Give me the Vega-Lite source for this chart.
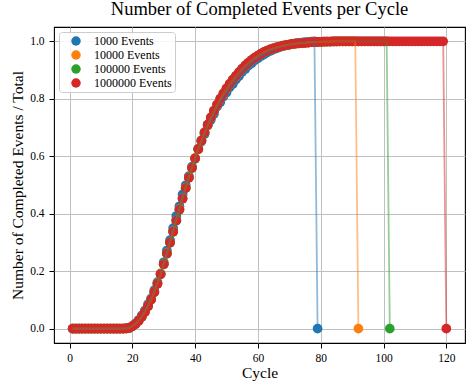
{
"$schema": "https://vega.github.io/schema/vega-lite/v6.json",
"width": 411, "height": 316,
"autosize": {"type": "none"},
"padding": {"left": 54, "top": 27, "right": 1, "bottom": 38},
"background": "white",
"title": {"text": "Number of Completed Events per Cycle", "font": "Liberation Serif", "fontSize": 18.5, "fontWeight": "normal", "anchor": "middle", "frame": "group", "offset": 5, "baseline": "bottom", "dy": 15, "color": "#000000"},
"config": {
"view": {"stroke": "#000000", "strokeWidth": 1.1},
"axis": {"domain": false, "grid": true, "gridColor": "#c0c0c0", "gridWidth": 1, "gridOpacity": 1, "tickColor": "#000000", "tickSize": 5, "tickWidth": 1, "labelFont": "Liberation Serif", "labelFontSize": 11.5, "labelColor": "#000000", "titleFont": "Liberation Serif", "titleFontSize": 15.5, "titleFontWeight": "normal", "titleColor": "#000000"},
"legend": {"orient": "top-left", "offset": 5, "padding": 3, "rowPadding": 2, "symbolOffset": 8, "labelOffset": 12, "labelFont": "Liberation Serif", "labelFontSize": 12, "labelColor": "#000000", "strokeColor": "#cccccc", "fillColor": "rgba(255,255,255,0.85)", "cornerRadius": 3, "symbolType": "circle", "symbolSize": 90, "symbolStrokeWidth": 0, "symbolOpacity": 1}
},
"data": {"values": [
{"n":1000,"c":1,"v":0},{"n":1000,"c":2,"v":0},{"n":1000,"c":3,"v":0},{"n":1000,"c":4,"v":0},{"n":1000,"c":5,"v":0},{"n":1000,"c":6,"v":0},{"n":1000,"c":7,"v":0},{"n":1000,"c":8,"v":0},{"n":1000,"c":9,"v":0},{"n":1000,"c":10,"v":0},{"n":1000,"c":11,"v":0},{"n":1000,"c":12,"v":0},{"n":1000,"c":13,"v":0},{"n":1000,"c":14,"v":0},{"n":1000,"c":15,"v":0},{"n":1000,"c":16,"v":0},{"n":1000,"c":17,"v":0},{"n":1000,"c":18,"v":0.001},{"n":1000,"c":19,"v":0.002},{"n":1000,"c":20,"v":0.009},
{"n":1000,"c":21,"v":0.018},{"n":1000,"c":22,"v":0.03},{"n":1000,"c":23,"v":0.046},{"n":1000,"c":24,"v":0.063},{"n":1000,"c":25,"v":0.085},{"n":1000,"c":26,"v":0.105},{"n":1000,"c":27,"v":0.134},{"n":1000,"c":28,"v":0.162},{"n":1000,"c":29,"v":0.192},{"n":1000,"c":30,"v":0.231},
{"n":1000,"c":31,"v":0.272},{"n":1000,"c":32,"v":0.308},{"n":1000,"c":33,"v":0.35},{"n":1000,"c":34,"v":0.392},{"n":1000,"c":35,"v":0.426},{"n":1000,"c":36,"v":0.467},{"n":1000,"c":37,"v":0.499},{"n":1000,"c":38,"v":0.531},{"n":1000,"c":39,"v":0.564},{"n":1000,"c":40,"v":0.591},
{"n":1000,"c":41,"v":0.626},{"n":1000,"c":42,"v":0.651},{"n":1000,"c":43,"v":0.677},{"n":1000,"c":44,"v":0.707},{"n":1000,"c":45,"v":0.727},{"n":1000,"c":46,"v":0.748},{"n":1000,"c":47,"v":0.773},{"n":1000,"c":48,"v":0.788},{"n":1000,"c":49,"v":0.808},{"n":1000,"c":50,"v":0.822},
{"n":1000,"c":51,"v":0.84},{"n":1000,"c":52,"v":0.851},{"n":1000,"c":53,"v":0.867},{"n":1000,"c":54,"v":0.879},{"n":1000,"c":55,"v":0.894},{"n":1000,"c":56,"v":0.904},{"n":1000,"c":57,"v":0.916},{"n":1000,"c":58,"v":0.924},{"n":1000,"c":59,"v":0.934},{"n":1000,"c":60,"v":0.941},
{"n":1000,"c":61,"v":0.949},{"n":1000,"c":62,"v":0.955},{"n":1000,"c":63,"v":0.962},{"n":1000,"c":64,"v":0.967},{"n":1000,"c":65,"v":0.972},{"n":1000,"c":66,"v":0.976},{"n":1000,"c":67,"v":0.98},{"n":1000,"c":68,"v":0.983},{"n":1000,"c":69,"v":0.986},{"n":1000,"c":70,"v":0.989},
{"n":1000,"c":71,"v":0.991},{"n":1000,"c":72,"v":0.993},{"n":1000,"c":73,"v":0.995},{"n":1000,"c":74,"v":0.996},{"n":1000,"c":75,"v":0.997},{"n":1000,"c":76,"v":0.998},{"n":1000,"c":77,"v":0.999},{"n":1000,"c":78,"v":1},{"n":1000,"c":79,"v":0},
{"n":10000,"c":1,"v":0},{"n":10000,"c":2,"v":0},{"n":10000,"c":3,"v":0},{"n":10000,"c":4,"v":0},{"n":10000,"c":5,"v":0},{"n":10000,"c":6,"v":0},{"n":10000,"c":7,"v":0},{"n":10000,"c":8,"v":0},{"n":10000,"c":9,"v":0},{"n":10000,"c":10,"v":0},{"n":10000,"c":11,"v":0},{"n":10000,"c":12,"v":0},{"n":10000,"c":13,"v":0},{"n":10000,"c":14,"v":0},{"n":10000,"c":15,"v":0},{"n":10000,"c":16,"v":0},{"n":10000,"c":17,"v":0},{"n":10000,"c":18,"v":0.0006},{"n":10000,"c":19,"v":0.0021},{"n":10000,"c":20,"v":0.0083},
{"n":10000,"c":21,"v":0.0162},{"n":10000,"c":22,"v":0.0268},{"n":10000,"c":23,"v":0.0414},{"n":10000,"c":24,"v":0.0583},{"n":10000,"c":25,"v":0.0789},{"n":10000,"c":26,"v":0.1015},{"n":10000,"c":27,"v":0.1281},{"n":10000,"c":28,"v":0.1573},{"n":10000,"c":29,"v":0.1902},{"n":10000,"c":30,"v":0.2252},
{"n":10000,"c":31,"v":0.2627},{"n":10000,"c":32,"v":0.3004},{"n":10000,"c":33,"v":0.3392},{"n":10000,"c":34,"v":0.3771},{"n":10000,"c":35,"v":0.4163},{"n":10000,"c":36,"v":0.4535},{"n":10000,"c":37,"v":0.4909},{"n":10000,"c":38,"v":0.5262},{"n":10000,"c":39,"v":0.5601},{"n":10000,"c":40,"v":0.5935},
{"n":10000,"c":41,"v":0.6244},{"n":10000,"c":42,"v":0.6539},{"n":10000,"c":43,"v":0.6825},{"n":10000,"c":44,"v":0.7087},{"n":10000,"c":45,"v":0.7338},{"n":10000,"c":46,"v":0.7569},{"n":10000,"c":47,"v":0.7785},{"n":10000,"c":48,"v":0.7984},{"n":10000,"c":49,"v":0.8172},{"n":10000,"c":50,"v":0.8345},
{"n":10000,"c":51,"v":0.8503},{"n":10000,"c":52,"v":0.8651},{"n":10000,"c":53,"v":0.8787},{"n":10000,"c":54,"v":0.8918},{"n":10000,"c":55,"v":0.9041},{"n":10000,"c":56,"v":0.9152},{"n":10000,"c":57,"v":0.9251},{"n":10000,"c":58,"v":0.9342},{"n":10000,"c":59,"v":0.9423},{"n":10000,"c":60,"v":0.9494},
{"n":10000,"c":61,"v":0.9563},{"n":10000,"c":62,"v":0.9624},{"n":10000,"c":63,"v":0.9676},{"n":10000,"c":64,"v":0.9718},{"n":10000,"c":65,"v":0.9757},{"n":10000,"c":66,"v":0.9788},{"n":10000,"c":67,"v":0.9818},{"n":10000,"c":68,"v":0.9847},{"n":10000,"c":69,"v":0.9869},{"n":10000,"c":70,"v":0.9889},
{"n":10000,"c":71,"v":0.9908},{"n":10000,"c":72,"v":0.9919},{"n":10000,"c":73,"v":0.9929},{"n":10000,"c":74,"v":0.994},{"n":10000,"c":75,"v":0.9951},{"n":10000,"c":76,"v":0.9961},{"n":10000,"c":77,"v":0.997},{"n":10000,"c":78,"v":0.9976},{"n":10000,"c":79,"v":0.9981},{"n":10000,"c":80,"v":0.9986},
{"n":10000,"c":81,"v":0.999},{"n":10000,"c":82,"v":0.9993},{"n":10000,"c":83,"v":0.9995},{"n":10000,"c":84,"v":0.9996},{"n":10000,"c":85,"v":0.9997},{"n":10000,"c":86,"v":0.9998},{"n":10000,"c":87,"v":0.9999},{"n":10000,"c":88,"v":0.9999},{"n":10000,"c":89,"v":0.9999},{"n":10000,"c":90,"v":1},{"n":10000,"c":91,"v":1},{"n":10000,"c":92,"v":0},
{"n":100000,"c":1,"v":0},{"n":100000,"c":2,"v":0},{"n":100000,"c":3,"v":0},{"n":100000,"c":4,"v":0},{"n":100000,"c":5,"v":0},{"n":100000,"c":6,"v":0},{"n":100000,"c":7,"v":0},{"n":100000,"c":8,"v":0},{"n":100000,"c":9,"v":0},{"n":100000,"c":10,"v":0},{"n":100000,"c":11,"v":0},{"n":100000,"c":12,"v":0},{"n":100000,"c":13,"v":0},{"n":100000,"c":14,"v":0},{"n":100000,"c":15,"v":0},{"n":100000,"c":16,"v":0},{"n":100000,"c":17,"v":0},{"n":100000,"c":18,"v":0.0005},{"n":100000,"c":19,"v":0.0024},{"n":100000,"c":20,"v":0.0081},
{"n":100000,"c":21,"v":0.0161},{"n":100000,"c":22,"v":0.0271},{"n":100000,"c":23,"v":0.0409},{"n":100000,"c":24,"v":0.0582},{"n":100000,"c":25,"v":0.0779},{"n":100000,"c":26,"v":0.1012},{"n":100000,"c":27,"v":0.1268},{"n":100000,"c":28,"v":0.1561},{"n":100000,"c":29,"v":0.1887},{"n":100000,"c":30,"v":0.2243},
{"n":100000,"c":31,"v":0.2608},{"n":100000,"c":32,"v":0.2994},{"n":100000,"c":33,"v":0.3371},{"n":100000,"c":34,"v":0.3762},{"n":100000,"c":35,"v":0.4139},{"n":100000,"c":36,"v":0.4526},{"n":100000,"c":37,"v":0.489},{"n":100000,"c":38,"v":0.5255},{"n":100000,"c":39,"v":0.5594},{"n":100000,"c":40,"v":0.5931},
{"n":100000,"c":41,"v":0.6245},{"n":100000,"c":42,"v":0.6551},{"n":100000,"c":43,"v":0.6829},{"n":100000,"c":44,"v":0.7101},{"n":100000,"c":45,"v":0.7348},{"n":100000,"c":46,"v":0.7586},{"n":100000,"c":47,"v":0.7799},{"n":100000,"c":48,"v":0.8005},{"n":100000,"c":49,"v":0.8187},{"n":100000,"c":50,"v":0.8362},
{"n":100000,"c":51,"v":0.8518},{"n":100000,"c":52,"v":0.8665},{"n":100000,"c":53,"v":0.8799},{"n":100000,"c":54,"v":0.8931},{"n":100000,"c":55,"v":0.9049},{"n":100000,"c":56,"v":0.9161},{"n":100000,"c":57,"v":0.9259},{"n":100000,"c":58,"v":0.9351},{"n":100000,"c":59,"v":0.9429},{"n":100000,"c":60,"v":0.9501},
{"n":100000,"c":61,"v":0.9569},{"n":100000,"c":62,"v":0.9629},{"n":100000,"c":63,"v":0.9681},{"n":100000,"c":64,"v":0.9721},{"n":100000,"c":65,"v":0.9759},{"n":100000,"c":66,"v":0.9791},{"n":100000,"c":67,"v":0.9821},{"n":100000,"c":68,"v":0.9849},{"n":100000,"c":69,"v":0.9871},{"n":100000,"c":70,"v":0.989},
{"n":100000,"c":71,"v":0.9909},{"n":100000,"c":72,"v":0.992},{"n":100000,"c":73,"v":0.993},{"n":100000,"c":74,"v":0.994},{"n":100000,"c":75,"v":0.995},{"n":100000,"c":76,"v":0.996},{"n":100000,"c":77,"v":0.997},{"n":100000,"c":78,"v":0.9975},{"n":100000,"c":79,"v":0.998},{"n":100000,"c":80,"v":0.9985},
{"n":100000,"c":81,"v":0.9989},{"n":100000,"c":82,"v":0.9992},{"n":100000,"c":83,"v":0.9994},{"n":100000,"c":84,"v":0.9996},{"n":100000,"c":85,"v":0.9997},{"n":100000,"c":86,"v":0.9998},{"n":100000,"c":87,"v":0.9999},{"n":100000,"c":88,"v":0.9999},{"n":100000,"c":89,"v":1},{"n":100000,"c":90,"v":1},
{"n":100000,"c":91,"v":1},{"n":100000,"c":92,"v":1},{"n":100000,"c":93,"v":1},{"n":100000,"c":94,"v":1},{"n":100000,"c":95,"v":1},{"n":100000,"c":96,"v":1},{"n":100000,"c":97,"v":1},{"n":100000,"c":98,"v":1},{"n":100000,"c":99,"v":1},{"n":100000,"c":100,"v":1},{"n":100000,"c":101,"v":1},{"n":100000,"c":102,"v":0},
{"n":1000000,"c":1,"v":0},{"n":1000000,"c":2,"v":0},{"n":1000000,"c":3,"v":0},{"n":1000000,"c":4,"v":0},{"n":1000000,"c":5,"v":0},{"n":1000000,"c":6,"v":0},{"n":1000000,"c":7,"v":0},{"n":1000000,"c":8,"v":0},{"n":1000000,"c":9,"v":0},{"n":1000000,"c":10,"v":0},{"n":1000000,"c":11,"v":0},{"n":1000000,"c":12,"v":0},{"n":1000000,"c":13,"v":0},{"n":1000000,"c":14,"v":0},{"n":1000000,"c":15,"v":0},{"n":1000000,"c":16,"v":0},{"n":1000000,"c":17,"v":0},{"n":1000000,"c":18,"v":0.0005},{"n":1000000,"c":19,"v":0.0025},{"n":1000000,"c":20,"v":0.008},
{"n":1000000,"c":21,"v":0.016},{"n":1000000,"c":22,"v":0.027},{"n":1000000,"c":23,"v":0.041},{"n":1000000,"c":24,"v":0.058},{"n":1000000,"c":25,"v":0.078},{"n":1000000,"c":26,"v":0.101},{"n":1000000,"c":27,"v":0.127},{"n":1000000,"c":28,"v":0.156},{"n":1000000,"c":29,"v":0.189},{"n":1000000,"c":30,"v":0.224},
{"n":1000000,"c":31,"v":0.261},{"n":1000000,"c":32,"v":0.2991},{"n":1000000,"c":33,"v":0.3375},{"n":1000000,"c":34,"v":0.3759},{"n":1000000,"c":35,"v":0.4142},{"n":1000000,"c":36,"v":0.4522},{"n":1000000,"c":37,"v":0.4893},{"n":1000000,"c":38,"v":0.5252},{"n":1000000,"c":39,"v":0.5597},{"n":1000000,"c":40,"v":0.5929},
{"n":1000000,"c":41,"v":0.6247},{"n":1000000,"c":42,"v":0.6548},{"n":1000000,"c":43,"v":0.6832},{"n":1000000,"c":44,"v":0.7099},{"n":1000000,"c":45,"v":0.735},{"n":1000000,"c":46,"v":0.7584},{"n":1000000,"c":47,"v":0.7801},{"n":1000000,"c":48,"v":0.8003},{"n":1000000,"c":49,"v":0.8189},{"n":1000000,"c":50,"v":0.8361},
{"n":1000000,"c":51,"v":0.8519},{"n":1000000,"c":52,"v":0.8664},{"n":1000000,"c":53,"v":0.88},{"n":1000000,"c":54,"v":0.893},{"n":1000000,"c":55,"v":0.905},{"n":1000000,"c":56,"v":0.916},{"n":1000000,"c":57,"v":0.926},{"n":1000000,"c":58,"v":0.935},{"n":1000000,"c":59,"v":0.943},{"n":1000000,"c":60,"v":0.95},
{"n":1000000,"c":61,"v":0.957},{"n":1000000,"c":62,"v":0.963},{"n":1000000,"c":63,"v":0.968},{"n":1000000,"c":64,"v":0.972},{"n":1000000,"c":65,"v":0.976},{"n":1000000,"c":66,"v":0.979},{"n":1000000,"c":67,"v":0.982},{"n":1000000,"c":68,"v":0.985},{"n":1000000,"c":69,"v":0.987},{"n":1000000,"c":70,"v":0.989},
{"n":1000000,"c":71,"v":0.991},{"n":1000000,"c":72,"v":0.992},{"n":1000000,"c":73,"v":0.993},{"n":1000000,"c":74,"v":0.994},{"n":1000000,"c":75,"v":0.995},{"n":1000000,"c":76,"v":0.996},{"n":1000000,"c":77,"v":0.997},{"n":1000000,"c":78,"v":0.9975},{"n":1000000,"c":79,"v":0.998},{"n":1000000,"c":80,"v":0.9985},
{"n":1000000,"c":81,"v":0.9989},{"n":1000000,"c":82,"v":0.9992},{"n":1000000,"c":83,"v":0.9994},{"n":1000000,"c":84,"v":0.9996},{"n":1000000,"c":85,"v":0.9997},{"n":1000000,"c":86,"v":0.9998},{"n":1000000,"c":87,"v":0.9999},{"n":1000000,"c":88,"v":0.9999},{"n":1000000,"c":89,"v":1},{"n":1000000,"c":90,"v":1},
{"n":1000000,"c":91,"v":1},{"n":1000000,"c":92,"v":1},{"n":1000000,"c":93,"v":1},{"n":1000000,"c":94,"v":1},{"n":1000000,"c":95,"v":1},{"n":1000000,"c":96,"v":1},{"n":1000000,"c":97,"v":1},{"n":1000000,"c":98,"v":1},{"n":1000000,"c":99,"v":1},{"n":1000000,"c":100,"v":1},
{"n":1000000,"c":101,"v":1},{"n":1000000,"c":102,"v":1},{"n":1000000,"c":103,"v":1},{"n":1000000,"c":104,"v":1},{"n":1000000,"c":105,"v":1},{"n":1000000,"c":106,"v":1},{"n":1000000,"c":107,"v":1},{"n":1000000,"c":108,"v":1},{"n":1000000,"c":109,"v":1},{"n":1000000,"c":110,"v":1},
{"n":1000000,"c":111,"v":1},{"n":1000000,"c":112,"v":1},{"n":1000000,"c":113,"v":1},{"n":1000000,"c":114,"v":1},{"n":1000000,"c":115,"v":1},{"n":1000000,"c":116,"v":1},{"n":1000000,"c":117,"v":1},{"n":1000000,"c":118,"v":1},{"n":1000000,"c":119,"v":1},{"n":1000000,"c":120,"v":0}
]},
"encoding": {
"x": {"field": "c", "type": "quantitative", "scale": {"domain": [-4.95, 125.95], "nice": false, "zero": false}, "axis": {"values": [0, 20, 40, 60, 80, 100, 120], "title": "Cycle", "labelPadding": 4, "titlePadding": 2, "labelFlush": false}},
"y": {"field": "v", "type": "quantitative", "scale": {"domain": [-0.05, 1.05], "nice": false, "zero": false}, "axis": {"values": [0, 0.2, 0.4, 0.6, 0.8, 1.0], "format": ".1f", "title": "Number of Completed Events / Total", "labelPadding": 5, "titlePadding": 4}}
},
"layer": [
{"mark": {"type": "point", "filled": true, "shape": "circle", "size": 95, "opacity": 1, "strokeWidth": 0},
 "encoding": {"color": {"field": "n", "type": "nominal", "scale": {"domain": [1000, 10000, 100000, 1000000], "range": ["#1f77b4", "#ff7f0e", "#2ca02c", "#d62728"]}, "legend": {"title": null, "labelExpr": "datum.label + ' Events'"}}}},
{"mark": {"type": "line", "strokeWidth": 1.8, "opacity": 0.5},
 "encoding": {"color": {"field": "n", "type": "nominal", "legend": null}, "order": {"field": "c", "type": "quantitative"}}}
]
}
